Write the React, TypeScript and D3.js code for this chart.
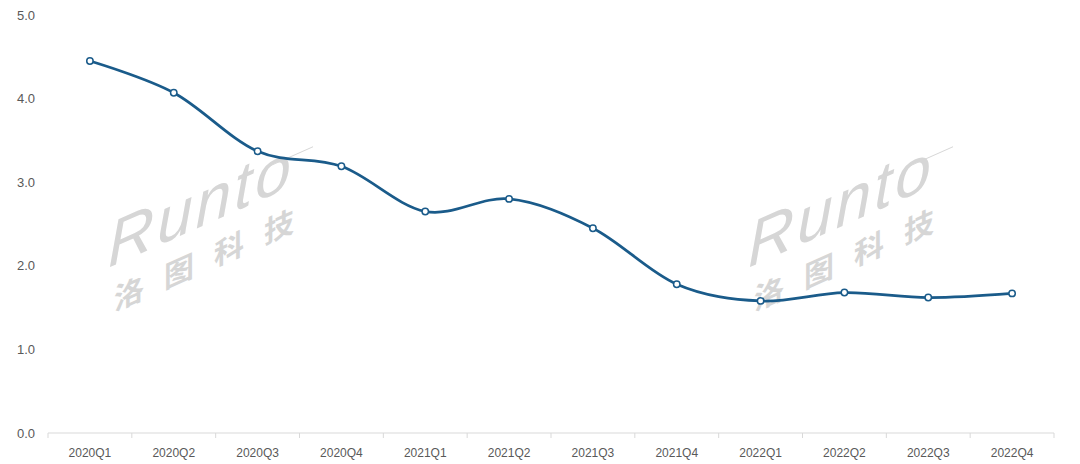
import React from "react";
import * as d3 from "d3";

const categories = ["2020Q1","2020Q2","2020Q3","2020Q4","2021Q1","2021Q2","2021Q3","2021Q4","2022Q1","2022Q2","2022Q3","2022Q4"];
const values = [4.45, 4.07, 3.37, 3.19, 2.65, 2.80, 2.45, 1.78, 1.58, 1.68, 1.62, 1.67];
const yTicks = [0, 1, 2, 3, 4, 5];

const W = 1080, H = 464;
const left = 48, right = 1054, top = 15, bottom = 433;

export default function App() {
  const x = d3.scaleBand<string>().domain(categories).range([left, right]);
  const y = d3.scaleLinear().domain([0, 5]).range([bottom, top]);
  const line = d3.line<number>()
    .x((_, i) => (x(categories[i]) as number) + x.bandwidth() / 2)
    .y((d) => y(d))
    .curve(d3.curveCatmullRom.alpha(0));
  const color = "#1a5b8a";
  const textColor = "#595959";
  const font = "'Liberation Sans', Arial, sans-serif";
  const watermarks = [108, 748];
  return (
    <svg width={W} height={H} style={{ position: "absolute", left: 0, top: 0, background: "#fff" }}>
      {watermarks.map((wx, k) => (
        <g key={k} transform={`translate(${wx},268) skewY(-24)`} fill="#d6d6d6" fontFamily={font}>
          <text x={0} y={0} fontSize={64} fontStyle="italic" letterSpacing={3}>Runto</text>
          <text x={6} y={46} fontSize={30} fontWeight={700} fontFamily="'Noto Sans CJK SC', sans-serif" letterSpacing={20}>洛图科技</text>
          <line x1={160} y1={-30} x2={205} y2={-30} stroke="#d6d6d6" strokeWidth={1} />
        </g>
      ))}
      <line x1={left} x2={right} y1={bottom} y2={bottom} stroke="#d9d9d9" strokeWidth={1} />
      {d3.range(categories.length + 1).map((i) => {
        const xx = left + i * x.step();
        return <line key={i} x1={xx} x2={xx} y1={bottom} y2={bottom + 5} stroke="#d9d9d9" strokeWidth={1} />;
      })}
      {categories.map((c) => (
        <text key={c} x={(x(c) as number) + x.bandwidth() / 2} y={457} textAnchor="middle" fontSize={12} fill={textColor} fontFamily={font}>{c}</text>
      ))}
      {yTicks.map((t) => (
        <text key={t} x={35} y={y(t) + 4.5} textAnchor="end" fontSize={13} fill={textColor} fontFamily={font}>{t.toFixed(1)}</text>
      ))}
      <path d={line(values) || ""} fill="none" stroke={color} strokeWidth={2.75} />
      {values.map((v, i) => (
        <circle key={i} cx={(x(categories[i]) as number) + x.bandwidth() / 2} cy={y(v)} r={3.2} fill="#fff" stroke={color} strokeWidth={1.5} />
      ))}
    </svg>
  );
}
